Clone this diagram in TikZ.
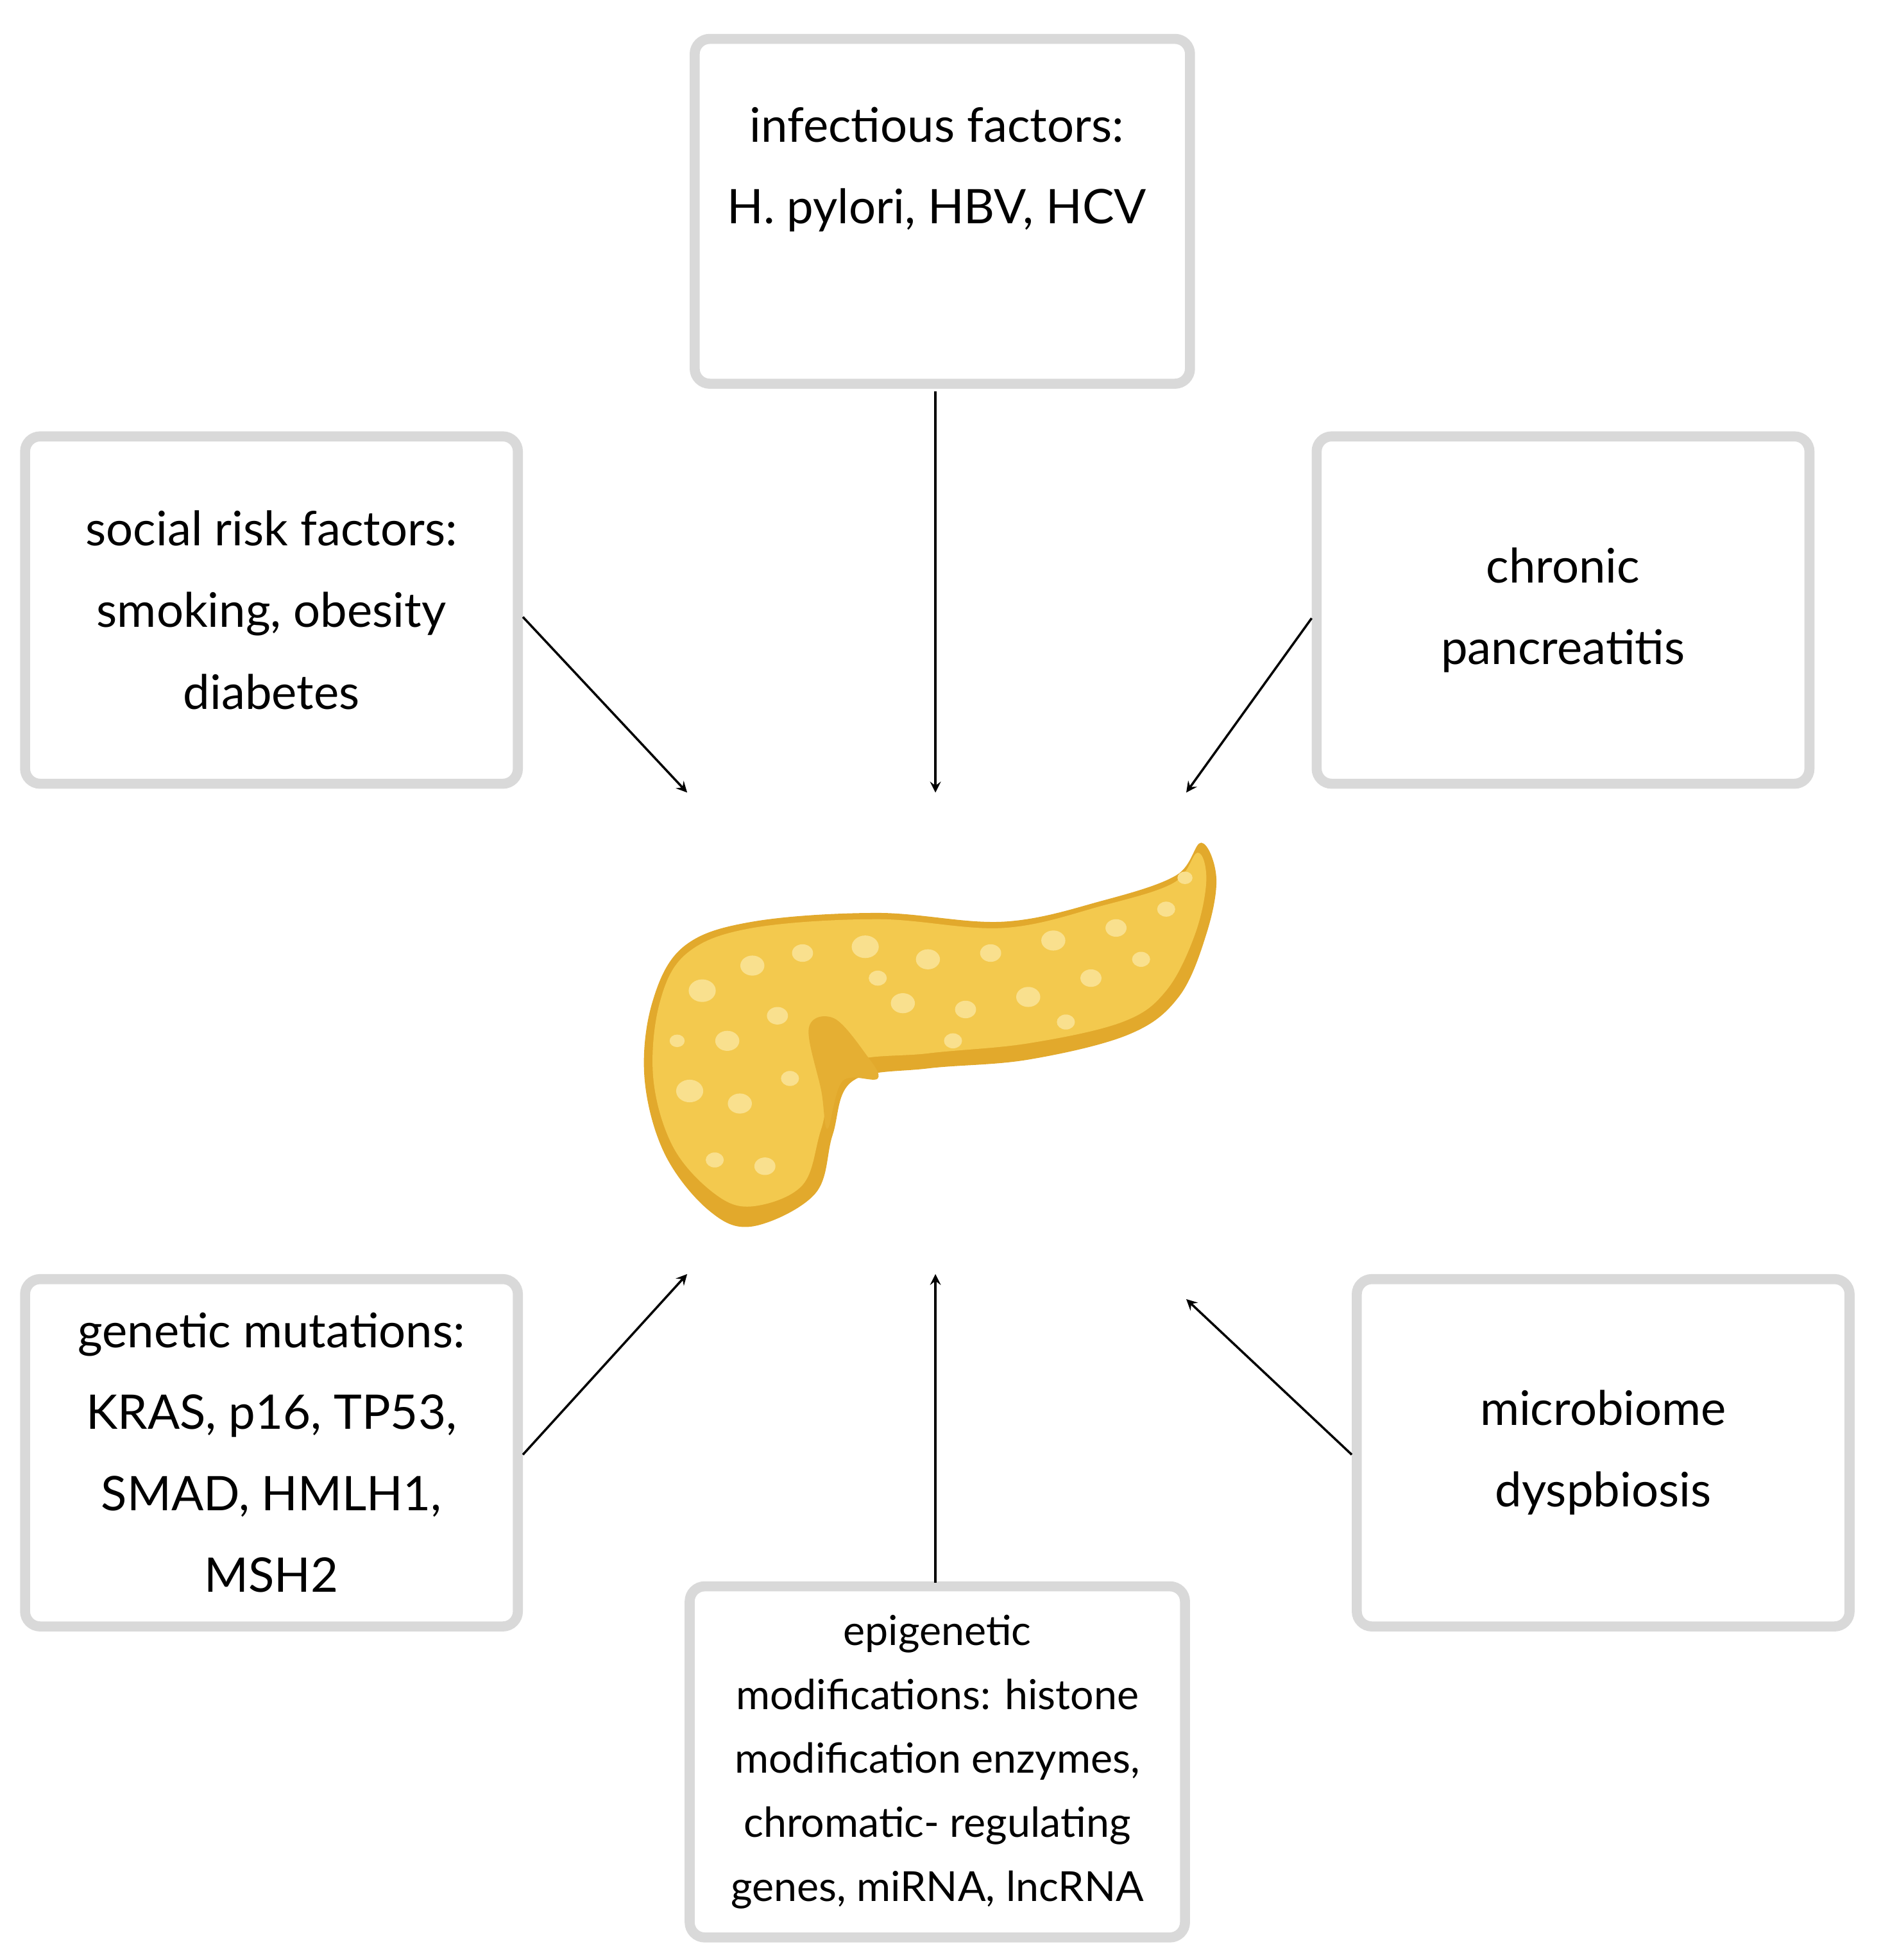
\documentclass[tikz,border=0pt]{standalone}
\usepackage{fontspec}
\setmainfont{Lato}
\begin{document}
\begin{tikzpicture}[x=0.5pt,y=-0.5pt,
 box/.style={draw=black!15,line width=4pt,rounded corners=6pt,fill=white,align=center,inner sep=0pt},
 big/.style={font=\fontsize{19}{32.5}\selectfont},
 small/.style={font=\fontsize{16.5}{25.5}\selectfont},
 arr/.style={-stealth,line width=0.9pt}]
\useasboundingbox (0,0) rectangle (1500,1563);
\node[box,big,minimum width=197.5pt,minimum height=137.5pt,anchor=north west,text depth=0pt] (inf) at (550,27) {};
\node[big,align=center] (inft) at (747,135) {infectious factors:\\H. pylori, HBV, HCV};
\node[box,big,minimum width=196.5pt,minimum height=138.5pt] (soc) at (216.5,486.5) {social risk factors:\\smoking, obesity\\diabetes};
\node[box,big,minimum width=196.5pt,minimum height=138.5pt] (chr) at (1246.5,486.5) {chronic\\pancreatitis};
\node[box,big,minimum width=196.5pt,minimum height=138.5pt] (gen) at (216.5,1158.5) {genetic mutations:\\KRAS, p16, TP53,\\SMAD, HMLH1,\\MSH2};
\node[box,big,minimum width=196.5pt,minimum height=138.5pt] (mic) at (1278.5,1158.5) {microbiome\\dyspbiosis};
\node[box,small,minimum width=197.5pt,minimum height=140pt] (epi) at (747.5,1405) {epigenetic\\modifications: histone\\modification enzymes,\\chromatic- regulating\\genes, miRNA, lncRNA};
\coordinate (t1) at (746,632); \coordinate (s1) at (417,492); \coordinate (t2) at (548,632);
\coordinate (c1) at (1046,493); \coordinate (t3) at (946,632);
\coordinate (g1) at (417,1160); \coordinate (t4) at (548,1016);
\coordinate (e1) at (746,1262); \coordinate (t5) at (746,1016);
\coordinate (m1) at (1078,1160); \coordinate (t6) at (946,1036);
\coordinate (i1) at (746,312);
\draw[arr] (i1) -- (t1);
\draw[arr] (s1) -- (t2);
\draw[arr] (c1) -- (t3);
\draw[arr] (g1) -- (t4);
\draw[arr] (e1) -- (t5);
\draw[arr] (m1) -- (t6);
% pancreas
\definecolor{pfill}{HTML}{F3C94E}\definecolor{pdark}{HTML}{E2A92C}\definecolor{plight}{HTML}{F9E08E}
\fill[pdark] plot[smooth cycle,tension=0.6] coordinates{(520,800)(545,755)(600,735)(700,728)(800,735)(880,718)(938,698)(958,672)(970,700)(962,745)(940,795)(900,825)(820,845)(740,852)(680,862)(664,905)(650,952)(600,978)(565,965)(530,920)(514,860)};
\fill[pfill] plot[smooth cycle,tension=0.6] coordinates{(526,800)(548,760)(600,740)(700,733)(800,740)(880,722)(936,704)(955,680)(962,702)(953,745)(930,790)(895,815)(820,832)(740,840)(672,850)(655,900)(640,945)(600,962)(570,952)(537,915)(521,860)};
\fill[pdark!80!pfill] plot[smooth cycle,tension=0.6] coordinates{(645,820)(665,812)(690,840)(700,860)(672,862)(660,900)(655,870)};
\foreach \x/\y/\r in {560/790/9,600/770/8,640/760/7,690/755/9,740/765/8,790/760/7,840/750/8,890/740/7,930/725/6,945/700/5,580/830/8,620/810/7,550/870/9,590/880/8,610/930/7,570/925/6,720/800/8,770/805/7,820/795/8,870/780/7,910/765/6,760/830/6,850/815/6,540/830/5,630/860/6,700/780/6}
  \fill[plight] (\x,\y) ellipse ({\r*1.2} and \r);
\end{tikzpicture}
\end{document}
